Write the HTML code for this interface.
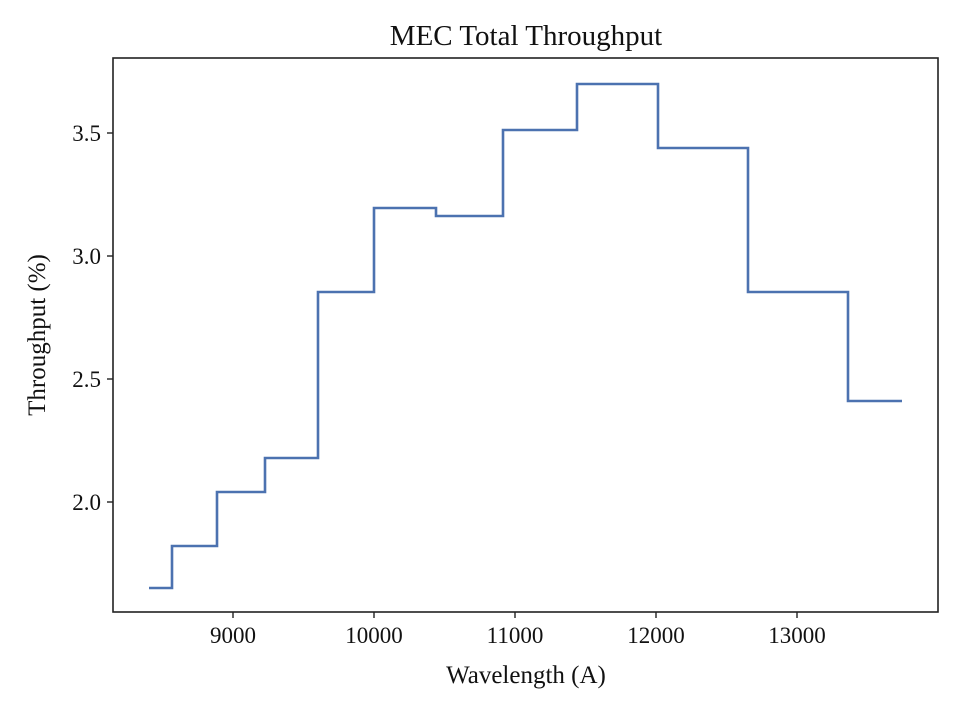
<!DOCTYPE html>
<html><head><style>body{margin:0;background:#fff}svg{display:block}</style></head><body>
<svg width="958" height="712" xmlns="http://www.w3.org/2000/svg" font-family="Liberation Serif, serif">
<rect width="958" height="712" fill="#fff"/>
<text x="526" y="45" font-size="29" text-anchor="middle" fill="#111">MEC Total Throughput</text>
<polyline fill="none" stroke="#4c72b0" stroke-width="2.6" points="149,588 172,588 172,546 217,546 217,492 265,492 265,458 318,458 318,292 374,292 374,208 436,208 436,216 503,216 503,130 577,130 577,84 658,84 658,148 748,148 748,292 848,292 848,401 902,401"/>
<rect x="113" y="58" width="825" height="554" fill="none" stroke="#222" stroke-width="1.6"/>
<g stroke="#222" stroke-width="1.4">
<line x1="233" y1="612" x2="233" y2="618"/><line x1="374" y1="612" x2="374" y2="618"/><line x1="515" y1="612" x2="515" y2="618"/><line x1="656" y1="612" x2="656" y2="618"/><line x1="797" y1="612" x2="797" y2="618"/>
<line x1="107" y1="133" x2="113" y2="133"/><line x1="107" y1="256" x2="113" y2="256"/><line x1="107" y1="379" x2="113" y2="379"/><line x1="107" y1="502" x2="113" y2="502"/>
</g>
<g font-size="23" fill="#111" text-anchor="middle">
<text x="233" y="643">9000</text><text x="374" y="643">10000</text><text x="515" y="643">11000</text><text x="656" y="643">12000</text><text x="797" y="643">13000</text>
</g>
<g font-size="23" fill="#111" text-anchor="end">
<text x="101" y="141">3.5</text><text x="101" y="264">3.0</text><text x="101" y="387">2.5</text><text x="101" y="510">2.0</text>
</g>
<text x="526" y="683" font-size="25" text-anchor="middle" fill="#111">Wavelength (A)</text>
<text transform="translate(45,335) rotate(-90)" font-size="25" text-anchor="middle" fill="#111">Throughput (%)</text>
</svg>
</body></html>
